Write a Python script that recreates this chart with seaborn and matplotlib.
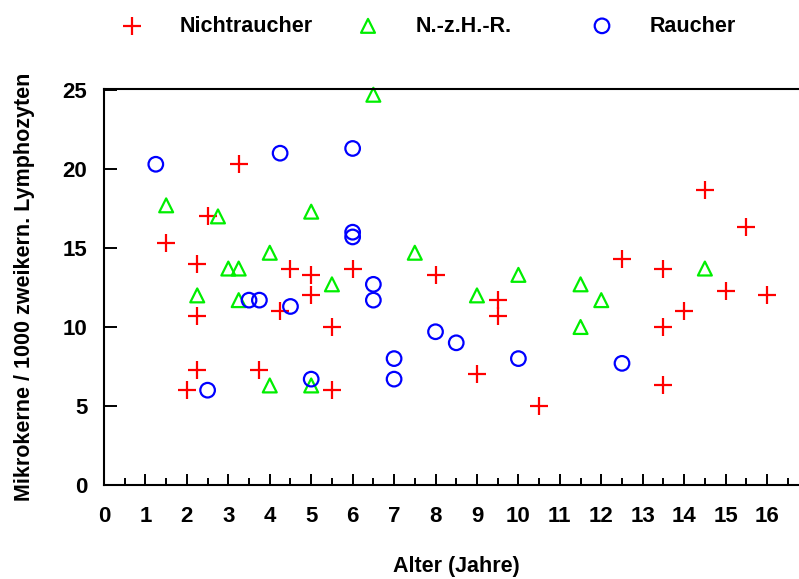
import pandas as pd
import numpy as np
import seaborn as sns
import matplotlib.pyplot as plt
from matplotlib.ticker import MultipleLocator

# Data
nicht_x = [1.5, 2, 2.25, 2.25, 2.25, 2.5, 3.25, 3.75, 4.25, 4.5, 5, 5, 5.5, 5.5, 6,
           8, 9, 9.5, 9.5, 10.5, 12.5, 13.5, 13.5, 13.5, 14, 14.5, 15, 15.5, 16]
nicht_y = [15.3, 6.0, 14.0, 10.7, 7.3, 17.0, 20.3, 7.3, 11.0, 13.7, 13.3, 12.0, 10.0, 6.0, 13.7,
           13.3, 7.0, 11.7, 10.7, 5.0, 14.3, 13.7, 10.0, 6.3, 11.0, 18.7, 12.3, 16.3, 12.0]

nzhr_x = [1.5, 2.25, 2.75, 3, 3.25, 3.25, 4, 4, 5, 5, 5.5, 6.5, 7.5, 9, 10, 11.5, 11.5, 12, 14.5]
nzhr_y = [17.7, 12.0, 17.0, 13.7, 13.7, 11.7, 14.7, 6.3, 17.3, 6.3, 12.7, 24.7, 14.7, 12.0,
          13.3, 12.7, 10.0, 11.7, 13.7]

raucher_x = [1.25, 2.5, 3.5, 3.75, 4.25, 4.5, 5, 6, 6, 6, 6.5, 6.5, 7, 7, 8, 8.5, 10, 12.5]
raucher_y = [20.3, 6.0, 11.7, 11.7, 21.0, 11.3, 6.7, 21.3, 16.0, 15.7, 12.7, 11.7, 8.0, 6.7,
             9.7, 9.0, 8.0, 7.7]

groups = ["Nichtraucher", "N.-z.H.-R.", "Raucher"]
x_label = "Alter (Jahre)"
y_label = "Mikrokerne / 1000 zweikern. Lymphozyten"

sns.set_style("ticks")
plt.rcParams["font.family"] = ["Liberation Sans", "DejaVu Sans"]
plt.rcParams["font.weight"] = "bold"
plt.rcParams["text.color"] = "black"
plt.rcParams["axes.labelcolor"] = "black"
plt.rcParams["xtick.color"] = "black"
plt.rcParams["ytick.color"] = "black"

W, H = 799, 579
fig = plt.figure(figsize=(W / 100, H / 100), dpi=100)
# axes box: x=0 at px 104, 41.44 px per year; y=0 at px 485, top at px 89
ax = fig.add_axes([104 / W, (H - 485) / H, 41.44 * 17 / W, (485 - 89) / H])

styles = {
    "Nichtraucher": dict(marker="+", color="#ff0000", s=150, linewidth=1.6),
    "N.-z.H.-R.": dict(marker="^", color="#00ee00", facecolor="none", edgecolor="#00ee00",
                       s=100, linewidth=1.6),
    "Raucher": dict(marker="o", color="#0000ff", facecolor="none", edgecolor="#0000ff",
                    s=110, linewidth=1.6),
}
series = {
    "Nichtraucher": (nicht_x, nicht_y),
    "N.-z.H.-R.": (nzhr_x, nzhr_y),
    "Raucher": (raucher_x, raucher_y),
}

for name in groups:
    gx, gy = series[name]
    df = pd.DataFrame({"x": gx, "y": gy})
    sns.scatterplot(data=df, x="x", y="y", ax=ax, label=name, clip_on=False, **styles[name])

ax.set_xlim(0, 17)
ax.set_ylim(0, (485 - 89) / 15.8)

ax.xaxis.set_major_locator(MultipleLocator(1))
ax.xaxis.set_minor_locator(MultipleLocator(0.5))
ax.yaxis.set_major_locator(MultipleLocator(5))
ax.set_xticks(range(0, 17))

ax.tick_params(axis="x", which="major", direction="in", length=8, width=1.4,
               labelsize=16, pad=15)
ax.tick_params(axis="x", which="minor", direction="in", length=5, width=1.4)
ax.tick_params(axis="y", which="major", direction="in", length=9, width=1.4,
               labelsize=16, pad=12)
for lab in ax.get_xticklabels() + ax.get_yticklabels():
    lab.set_fontweight("bold")

for sp in ax.spines.values():
    sp.set_linewidth(1.5)
    sp.set_color("black")
ax.spines["right"].set_visible(False)

ax.set_xlabel(x_label, fontsize=15.5, fontweight="bold", labelpad=21)
ax.set_ylabel(y_label, fontsize=15.5, fontweight="bold", labelpad=20)

# legend above the plot, one entry per group at fixed positions
handles, labels = ax.get_legend_handles_labels()
ax.legend_.remove()
fs_px = 15.5 * 100 / 72
marker_px = [132, 368, 602]
for h, l, mx in zip(handles, labels, marker_px):
    fig.legend([h], [l], loc="center left",
               bbox_to_anchor=((mx - fs_px / 2) / W, (H - 26) / H),
               frameon=False, handlelength=1, handletextpad=1.7,
               borderpad=0, borderaxespad=0, prop={"weight": "bold", "size": 15.5})

fig.savefig("out.png", dpi=100)
